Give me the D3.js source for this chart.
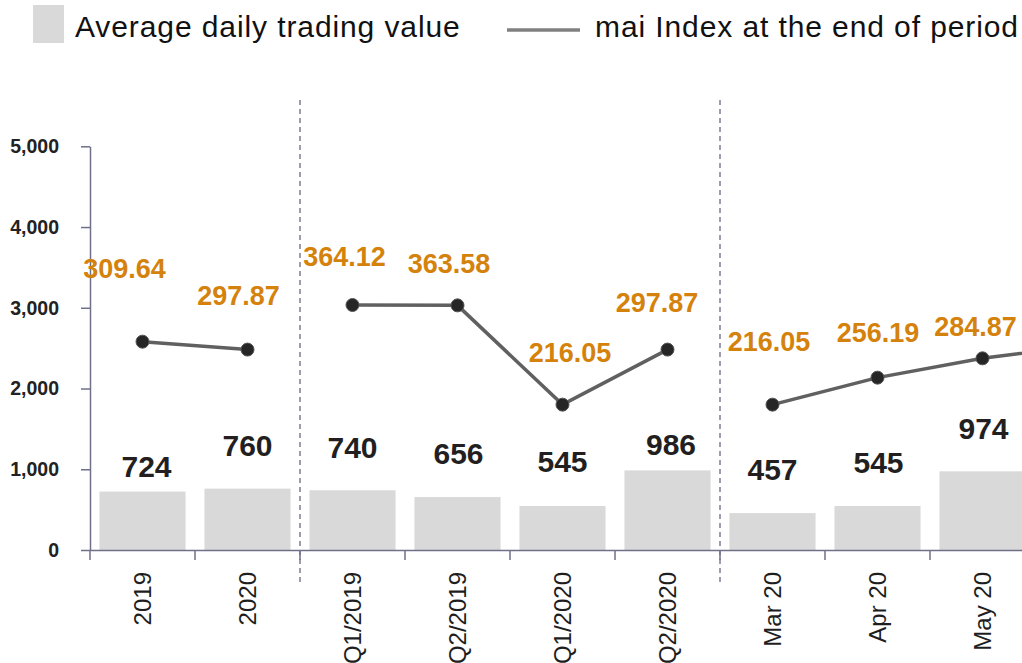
<!DOCTYPE html>
<html>
<head>
<meta charset="utf-8">
<script src="https://cdn.jsdelivr.net/npm/d3@7"></script>
<style>
  body { margin: 0; background: #fff; }
  svg { display: block; font-family: "Liberation Sans", Arial, sans-serif; }
</style>
</head>
<body>
<svg width="1022" height="663"></svg>
<script>
// categories (last one runs off the right edge, only its line segment shows)
const categories = ["2019", "2020", "Q1/2019", "Q2/2019", "Q1/2020", "Q2/2020", "Mar 20", "Apr 20", "May 20", "Jun 20"];
const groups = [0, 0, 1, 1, 1, 1, 2, 2, 2, 2];
const tradingValue = [724, 760, 740, 656, 545, 986, 457, 545, 974, null];
const maiIndex = [309.64, 297.87, 364.12, 363.58, 216.05, 297.87, 216.05, 256.19, 284.87, 305];
const yTicks = [0, 1000, 2000, 3000, 4000, 5000];
const shown = 9; // categories visible in the frame

// label nudges (layout only)
const barLabelLift = [15, 33, 32, 33, 34, 15, 33, 33, 32, 33];
const barLabelDx = [4, 0, 0, 1, 0, 3.5, 0, 1, 1, 0];
const idxLabelDx = [-18, -9, -8, -8.5, 7.5, -10.5, -3.5, 0.5, -7, 0];
const idxLabelDy = [-64, -45, -39, -32, -43, -38, -54, -36, -22, -30];

const left = 90, step = 105, y0 = 550, yTop = 146.3;

const svg = d3.select("svg");

const x = d3.scaleBand()
    .domain(categories)
    .range([left, left + step * categories.length])
    .paddingInner(0.18)
    .paddingOuter(0.09);

const y = d3.scaleLinear().domain([0, 5000]).range([y0, yTop]);
const y2 = d3.scaleLinear().domain([0, 600]).range([y0, yTop]);

const axisColor = "#6f6f8a";
const cx = d => x(d) + x.bandwidth() / 2;
const visible = d3.range(shown);

// bars
svg.append("g")
    .attr("fill", "#d9d9d9")
    .selectAll("rect")
    .data(visible.filter(i => tradingValue[i] != null))
    .join("rect")
    .attr("x", i => x(categories[i]))
    .attr("y", i => y(tradingValue[i]))
    .attr("width", x.bandwidth())
    .attr("height", i => y(0) - y(tradingValue[i]));

// dashed group dividers
svg.append("g")
    .selectAll("line")
    .data([2, 6])
    .join("line")
    .attr("x1", i => x(categories[i]) - x.step() * 0.09)
    .attr("x2", i => x(categories[i]) - x.step() * 0.09)
    .attr("y1", 100)
    .attr("y2", 585)
    .attr("stroke", "#9c9cae")
    .attr("stroke-width", 2)
    .attr("stroke-dasharray", "5,4");

// y axis
svg.append("g")
    .attr("transform", `translate(${left},0)`)
    .call(d3.axisLeft(y).tickValues(yTicks).tickFormat(d3.format(",")).tickSize(9).tickSizeOuter(0).tickPadding(22))
    .call(g => g.selectAll("line, path").attr("stroke", axisColor).attr("stroke-width", 1.5))
    .call(g => g.selectAll("text")
        .attr("fill", "#222")
        .attr("font-size", 19.5)
        .attr("font-weight", "bold")
        .attr("font-family", "Liberation Sans, Arial, sans-serif"));

// x axis
const gx = svg.append("g")
    .attr("transform", `translate(0,${y0})`)
    .call(d3.axisBottom(x).tickValues(categories.slice(0, shown)).tickSize(0).tickSizeOuter(0).tickPadding(0));
gx.select(".domain").attr("stroke", axisColor).attr("stroke-width", 1.5);
gx.selectAll("text")
    .attr("transform", "rotate(-90)")
    .attr("text-anchor", "end")
    .attr("x", -22)
    .attr("y", 0)
    .attr("dy", "0.35em")
    .attr("fill", "#1e1e1e")
    .attr("font-size", 24)
    .attr("font-family", "Liberation Sans, Arial, sans-serif");
gx.append("g")
    .selectAll("line")
    .data(categories.slice(0, shown))
    .join("line")
    .attr("x1", d => x(d) - x.step() * 0.09)
    .attr("x2", d => x(d) - x.step() * 0.09)
    .attr("y1", 0)
    .attr("y2", 10)
    .attr("stroke", axisColor)
    .attr("stroke-width", 1.5);

// bar value labels
svg.append("g")
    .attr("font-size", 30)
    .attr("font-weight", "bold")
    .attr("fill", "#231f20")
    .attr("text-anchor", "middle")
    .selectAll("text")
    .data(visible.filter(i => tradingValue[i] != null))
    .join("text")
    .attr("x", i => cx(categories[i]) + barLabelDx[i])
    .attr("y", i => y(tradingValue[i]) - barLabelLift[i])
    .text(i => d3.format(",")(tradingValue[i]));

// mai index line, broken by group
const line = d3.line()
    .x(d => cx(categories[d]))
    .y(d => y2(maiIndex[d]));

d3.groups(d3.range(categories.length), i => groups[i]).forEach(([, idx]) => {
    svg.append("path")
        .attr("d", line(idx))
        .attr("fill", "none")
        .attr("stroke", "#606060")
        .attr("stroke-width", 3.5);
});

svg.append("g")
    .selectAll("circle")
    .data(visible)
    .join("circle")
    .attr("cx", i => cx(categories[i]))
    .attr("cy", i => y2(maiIndex[i]))
    .attr("r", 6.5)
    .attr("fill", "#262626")
    .attr("stroke", "#555")
    .attr("stroke-width", 1);

svg.append("g")
    .attr("font-size", 27)
    .attr("font-weight", "bold")
    .attr("fill", "#d4820c")
    .attr("text-anchor", "middle")
    .selectAll("text")
    .data(visible)
    .join("text")
    .attr("x", i => cx(categories[i]) + idxLabelDx[i])
    .attr("y", i => y2(maiIndex[i]) + idxLabelDy[i])
    .text(i => maiIndex[i].toFixed(2));

// legend
const legend = svg.append("g")
    .attr("font-size", 30)
    .attr("letter-spacing", 0.9)
    .attr("fill", "#111");
legend.append("rect")
    .attr("x", 33).attr("y", 5).attr("width", 31).attr("height", 38)
    .attr("fill", "#d9d9d9");
legend.append("text")
    .attr("x", 75).attr("y", 37)
    .text("Average daily trading value");
legend.append("line")
    .attr("x1", 507).attr("x2", 580).attr("y1", 30).attr("y2", 30)
    .attr("stroke", "#808080").attr("stroke-width", 3.5);
legend.append("text")
    .attr("x", 595).attr("y", 37)
    .text("mai Index at the end of period");
</script>
</body>
</html>
